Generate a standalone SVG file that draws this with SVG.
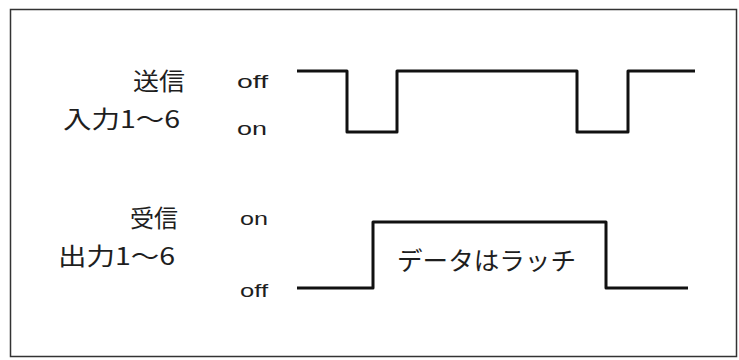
<svg xmlns="http://www.w3.org/2000/svg" width="739" height="360" viewBox="0 0 739 360">
<style>
.jp{font-family:"Noto Sans CJK JP","Noto Sans",sans-serif;fill:#1e1e1e}
.lv{font-family:"Liberation Sans","Noto Sans",sans-serif;font-size:19px;fill:#1e1e1e}
.wave{fill:none;stroke:#111;stroke-width:3;stroke-linejoin:round}
</style>
<rect x="0" y="0" width="739" height="360" fill="#ffffff"/>
<rect id="frame" x="10.5" y="9.5" width="726" height="347" fill="none" stroke="#333" stroke-width="1.5"/>
<g id="send-label">
<text class="jp" x="185" y="90" font-size="24" text-anchor="end" textLength="52" lengthAdjust="spacingAndGlyphs">送信</text>
<text class="jp" x="63" y="128" font-size="24" textLength="117" lengthAdjust="spacingAndGlyphs">入力1〜6</text>
</g>
<g id="send-levels">
<text class="lv" x="237" y="88" textLength="31" lengthAdjust="spacingAndGlyphs">off</text>
<text class="lv" x="237" y="135" textLength="30" lengthAdjust="spacingAndGlyphs">on</text>
</g>
<g id="recv-label">
<text class="jp" x="178" y="227" font-size="24" text-anchor="end" textLength="48" lengthAdjust="spacingAndGlyphs">受信</text>
<text class="jp" x="58" y="265" font-size="24" textLength="117" lengthAdjust="spacingAndGlyphs">出力1〜6</text>
</g>
<g id="recv-levels">
<text class="lv" x="240" y="225" textLength="28" lengthAdjust="spacingAndGlyphs">on</text>
<text class="lv" x="240" y="297" textLength="28" lengthAdjust="spacingAndGlyphs">off</text>
</g>
<g id="latch-label">
<text class="jp" x="397" y="270" font-size="25" textLength="179" lengthAdjust="spacingAndGlyphs">データはラッチ</text>
</g>
<g id="connectors">
<polyline id="send-wave" class="wave" points="297,71 347,71 347,132 397,132 397,71 577,71 577,132 628,132 628,71 695,71"/>
<polyline id="recv-wave" class="wave" points="297,288 373,288 373,222 606,222 606,288 688,288"/>
</g>
</svg>
